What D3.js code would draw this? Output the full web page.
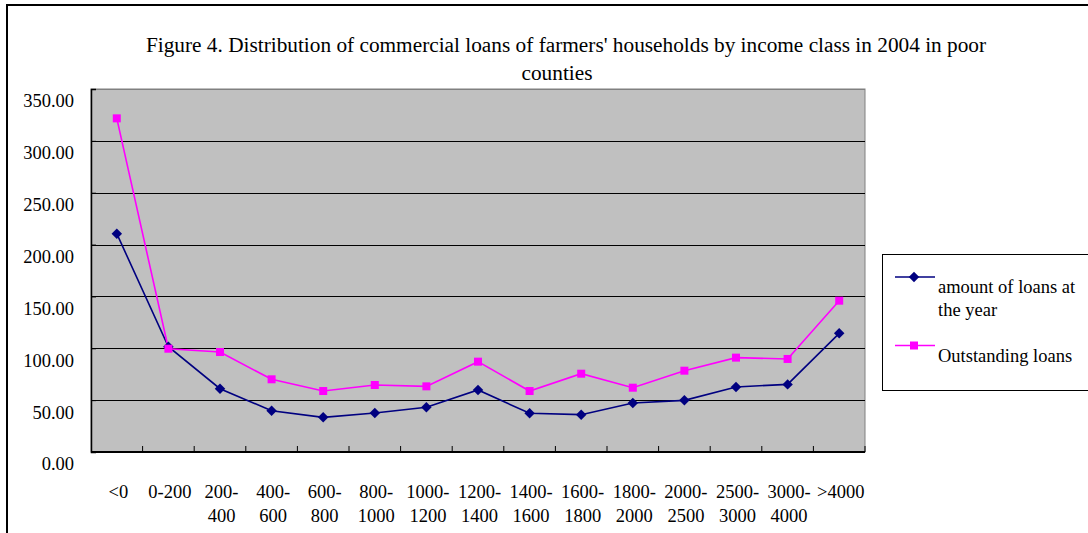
<!DOCTYPE html>
<html>
<head>
<meta charset="utf-8">
<script src="https://cdn.jsdelivr.net/npm/d3@7"></script>
<style>
  body { margin: 0; background: #fff; }
  svg { display: block; font-family: "Liberation Serif", "Times New Roman", serif; }
</style>
</head>
<body>
<svg id="chart" width="1088" height="533"></svg>
<script>
// ---- data ----
const categories = ["<0","0-200","200-400","400-600","600-800","800-1000","1000-1200","1200-1400","1400-1600","1600-1800","1800-2000","2000-2500","2500-3000","3000-4000",">4000"];
const tickLabels = [["<0"],["0-200"],["200-","400"],["400-","600"],["600-","800"],["800-","1000"],["1000-","1200"],["1200-","1400"],["1400-","1600"],["1600-","1800"],["1800-","2000"],["2000-","2500"],["2500-","3000"],["3000-","4000"],[">4000"]];
const amountOfLoans = [210.5, 101.5, 61.0, 39.8, 33.4, 37.6, 43.1, 59.8, 37.3, 36.0, 47.2, 49.8, 62.7, 65.2, 114.4];
const outstandingLoans = [321.7, 99.6, 96.4, 70.1, 58.8, 64.6, 63.3, 87.1, 58.8, 75.5, 62.0, 78.4, 91.0, 89.7, 145.9];
const yTicks = [0, 50, 100, 150, 200, 250, 300, 350];
const titleLines = ["Figure 4. Distribution of commercial loans of farmers' households by income class in 2004 in poor", "counties"];
const seriesNames = ["amount of loans at the year", "Outstanding loans"];

// ---- layout ----
const svg = d3.select("#chart");
const plot = { left: 91, right: 865, top: 89, bottom: 452 };
const navy = "#000080", magenta = "#FF00FF";

// outer frame
svg.append("rect").attr("x", 7).attr("y", 5).attr("width", 1200).attr("height", 700)
  .attr("fill", "#fff").attr("stroke", "#000").attr("stroke-width", 2);

const x = d3.scaleBand().domain(categories).range([plot.left, plot.right]).padding(0);
const y = d3.scaleLinear().domain([0, 350]).range([plot.bottom, plot.top]);

// plot background
svg.append("rect").attr("x", plot.left).attr("y", plot.top)
  .attr("width", plot.right - plot.left).attr("height", plot.bottom - plot.top)
  .attr("fill", "#C0C0C0").attr("stroke", "#808080").attr("stroke-width", 1);

// gridlines
svg.append("g").selectAll("line").data(yTicks.filter(d => d > 0)).join("line")
  .attr("x1", plot.left).attr("x2", plot.right)
  .attr("y1", d => Math.round(y(d)) + 0.5).attr("y2", d => Math.round(y(d)) + 0.5)
  .attr("stroke", d => d === 350 ? "#808080" : "#000").attr("stroke-width", 1);

// y axis
const yAxis = d3.axisLeft(y).tickValues(yTicks).tickFormat(d3.format(".2f")).tickSize(-5).tickPadding(0);
const gy = svg.append("g").attr("transform", `translate(${plot.left},0)`).call(yAxis);
gy.select(".domain").attr("stroke", "#000").attr("stroke-width", 1.5);
gy.selectAll(".tick line").attr("stroke", "#000");
gy.selectAll(".tick text").attr("x", -17).attr("dy", "0.32em").attr("transform", "translate(0,12)")
  .attr("font-size", "18.5px").attr("font-family", "Liberation Serif, serif").attr("fill", "#000");

// x axis line and ticks at category boundaries
svg.append("line").attr("x1", plot.left).attr("x2", plot.right)
  .attr("y1", plot.bottom).attr("y2", plot.bottom).attr("stroke", "#000").attr("stroke-width", 2);
const boundaries = categories.slice(1).map(c => x(c)).concat([plot.right]);
svg.append("g").selectAll("line").data(boundaries).join("line")
  .attr("x1", d => d).attr("x2", d => d).attr("y1", plot.bottom).attr("y2", plot.bottom - 6)
  .attr("stroke", "#000").attr("stroke-width", 1);

// x labels
const xl = svg.append("g").attr("font-size", "18.5px").attr("text-anchor", "middle");
categories.forEach((c, i) => {
  const t = xl.append("text").attr("x", x(c) + x.bandwidth() / 2 + 1.5).attr("y", 498);
  tickLabels[i].forEach((ln, j) => {
    t.append("tspan").attr("x", x(c) + x.bandwidth() / 2 + 1.5).attr("y", 498 + j * 24).text(ln);
  });
});

// lines
const cx = c => x(c) + x.bandwidth() / 2;
const line = d3.line().x(d => cx(d.c)).y(d => y(d.v));
const s1 = categories.map((c, i) => ({ c, v: amountOfLoans[i] }));
const s2 = categories.map((c, i) => ({ c, v: outstandingLoans[i] }));

const diamond = d3.symbol().type(d3.symbolDiamond2).size(70);
svg.append("path").datum(s1).attr("d", line).attr("fill", "none").attr("stroke", navy).attr("stroke-width", 1.6);
svg.append("path").datum(s2).attr("d", line).attr("fill", "none").attr("stroke", magenta).attr("stroke-width", 1.6);
svg.append("g").selectAll("path").data(s1).join("path")
  .attr("d", diamond).attr("transform", d => `translate(${cx(d.c)},${y(d.v)})`).attr("fill", navy);
svg.append("g").selectAll("rect").data(s2).join("rect")
  .attr("x", d => cx(d.c) - 4).attr("y", d => y(d.v) - 4).attr("width", 8).attr("height", 8).attr("fill", magenta);

// title
const tt = svg.append("g").attr("font-size", "21.3px").attr("text-anchor", "middle");
tt.append("text").attr("x", 566).attr("y", 52).text(titleLines[0]);
tt.append("text").attr("x", 557).attr("y", 80).text(titleLines[1]);

// legend
const lg = svg.append("g");
lg.append("rect").attr("x", 882.5).attr("y", 254.5).attr("width", 220).attr("height", 136)
  .attr("fill", "#fff").attr("stroke", "#000").attr("stroke-width", 1);
lg.append("line").attr("x1", 895).attr("x2", 935).attr("y1", 277).attr("y2", 277).attr("stroke", navy).attr("stroke-width", 1.6);
lg.append("path").attr("d", diamond).attr("transform", "translate(914,277)").attr("fill", navy);
lg.append("line").attr("x1", 895).attr("x2", 935).attr("y1", 345.5).attr("y2", 345.5).attr("stroke", magenta).attr("stroke-width", 1.6);
lg.append("rect").attr("x", 910).attr("y", 341.5).attr("width", 8).attr("height", 8).attr("fill", magenta);
const lt = lg.append("g").attr("font-size", "18.5px");
lt.append("text").attr("x", 938).attr("y", 293).text("amount of loans at");
lt.append("text").attr("x", 938).attr("y", 316).text("the year");
lt.append("text").attr("x", 938).attr("y", 362).text(seriesNames[1]);
</script>
</body>
</html>
